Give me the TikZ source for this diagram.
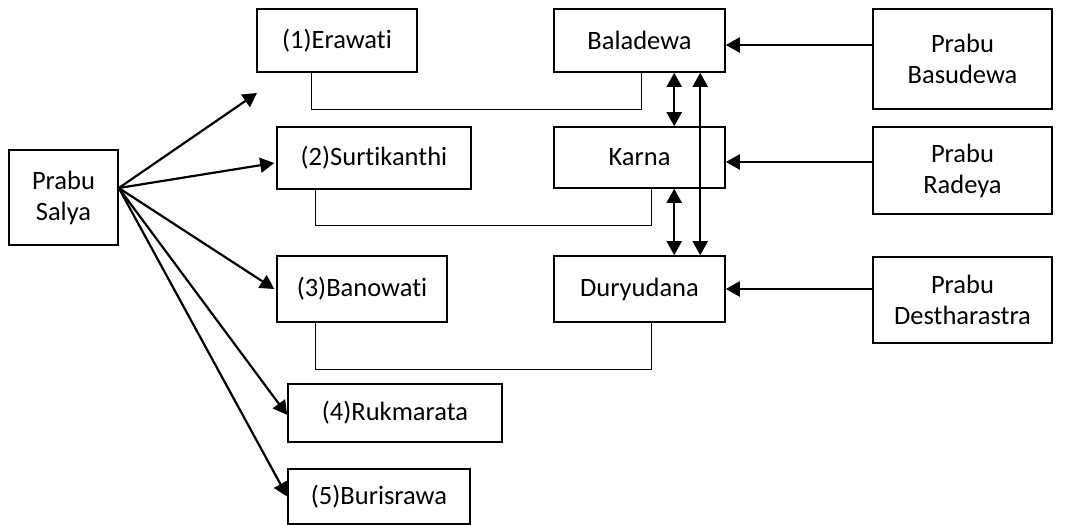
\documentclass[tikz,border=0pt]{standalone}
\usepackage{fontspec}
\setmainfont{Carlito}[Ligatures=NoCommon]
\usetikzlibrary{arrows.meta,calc}
\begin{document}
\begin{tikzpicture}[x=1pt,y=-1pt,
 box/.style={draw,line width=1.6pt,rectangle,inner sep=0pt,align=center,font=\fontsize{26.5}{31}\selectfont},
 arr/.style={line width=2.2pt,-{Triangle[length=14pt,width=15pt]}},
 dbl/.style={line width=2.2pt,{Triangle[length=14pt,width=15pt]}-{Triangle[length=14pt,width=15pt]}},
 elbow/.style={line width=1.3pt}]
\useasboundingbox (0,0) rectangle (1072,525);
\node[box,minimum width=109pt,minimum height=95pt] (sal) at (63.5,197.5) {Prabu\\Salya};
\node[box,minimum width=160pt,minimum height=63pt] (era) at (337,40.5) {(1)Erawati};
\node[box,minimum width=194pt,minimum height=62pt] (sur) at (374,158) {(2)Surtikanthi};
\node[box,minimum width=170pt,minimum height=66pt] (ban) at (362,289) {(3)Banowati};
\node[box,minimum width=214pt,minimum height=58pt] (ruk) at (395,413) {(4)Rukmarata};
\node[box,minimum width=182pt,minimum height=55pt] (bur) at (379,496.5) {(5)Burisrawa};
\node[box,minimum width=171pt,minimum height=63pt] (bal) at (639.5,40.5) {Baladewa};
\node[box,minimum width=171pt,minimum height=61pt] (kar) at (639.5,157.5) {Karna};
\node[box,minimum width=171pt,minimum height=66pt] (dur) at (639.5,289) {Duryudana};
\node[box,minimum width=179pt,minimum height=100pt] (bas) at (962.5,59) {Prabu\\Basudewa};
\node[box,minimum width=179pt,minimum height=87pt] (rad) at (962.5,170.5) {Prabu\\Radeya};
\node[box,minimum width=179pt,minimum height=86pt] (des) at (962.5,300) {Prabu\\Destharastra};
\coordinate (s) at ([yshift=9.5pt]sal.east);
\coordinate (eratip) at (257,93);
% arrows from Salya
\draw[arr] (s) -- (eratip);
\draw[arr] (s) -- ([xshift=-2pt,yshift=-5pt]sur.west);
\draw[arr] (s) -- ([xshift=-2pt]ban.west);
\draw[arr] (s) -- ([yshift=-2pt]ruk.west);
\draw[arr] (s) -- (bur.west);
% elbow connectors
\draw[elbow] ([xshift=55pt]era.south west) -- ++(0,37) -| ([xshift=88pt]bal.south west);
\draw[elbow] ([xshift=39pt]sur.south west) -- ++(0,36) -| ([xshift=98pt]kar.south west);
\draw[elbow] ([xshift=39pt]ban.south west) -- ++(0,47) -| ([xshift=98pt]dur.south west);
% vertical double arrows
\draw[dbl] ([xshift=121pt]bal.south west) -- ([xshift=121pt]kar.north west);
\draw[dbl] ([xshift=121pt]kar.south west) -- ([xshift=121pt]dur.north west);
\draw[dbl] ([xshift=147pt]bal.south west) -- ([xshift=147pt]dur.north west);
% horizontal arrows
\draw[arr] ([yshift=14pt]bas.west) -- ([yshift=14pt]bas.west -| bal.east);
\draw[arr] ([yshift=8.5pt]rad.west) -- ([yshift=8.5pt]rad.west -| kar.east);
\draw[arr] (des.west |- dur.east) -- (dur.east);
\end{tikzpicture}
\end{document}
